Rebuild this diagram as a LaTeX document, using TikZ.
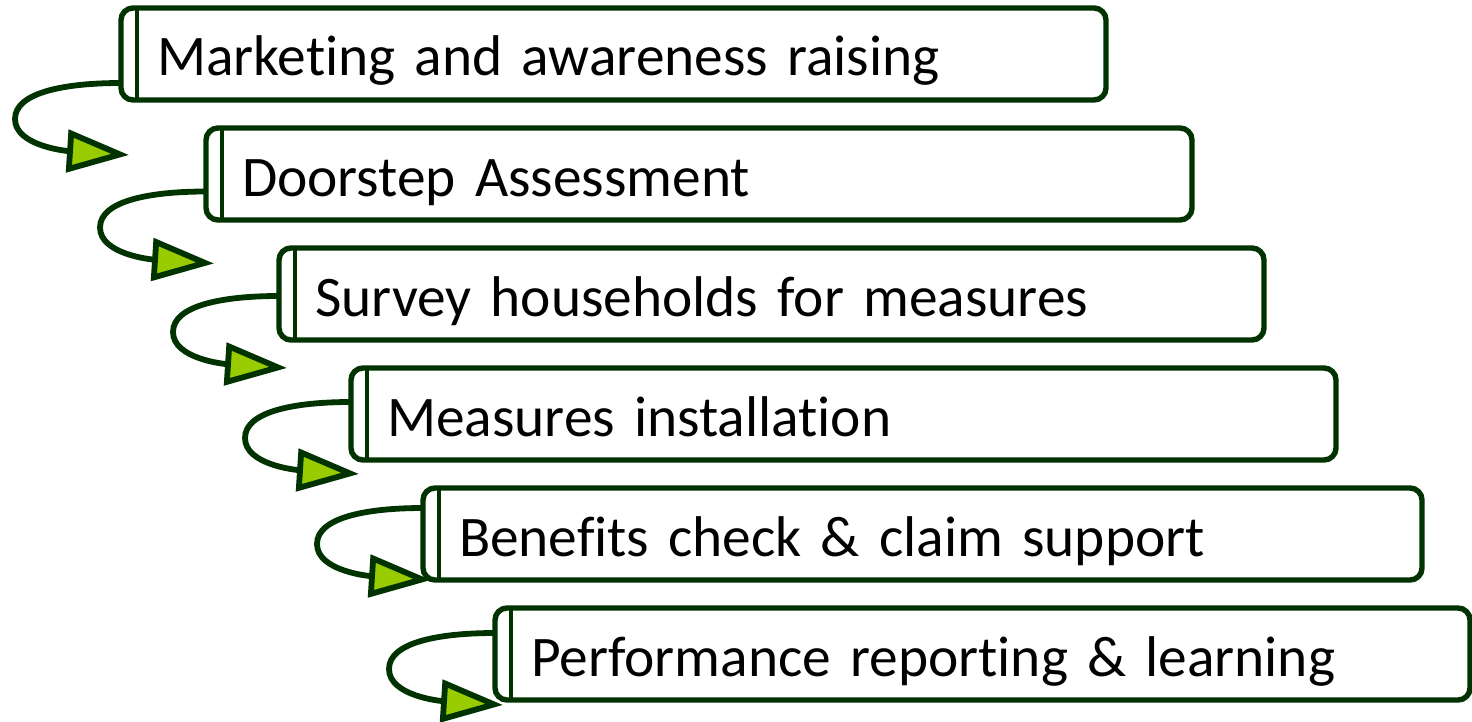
\documentclass[tikz,border=0pt]{standalone}
\usepackage{fontspec}
\setmainfont{Carlito}[Ligatures=NoCommon]
\usepackage{xcolor}
\usetikzlibrary{positioning, calc, arrows.meta}
\definecolor{stagegreen}{RGB}{0, 51, 0}
\definecolor{tipgreen}{RGB}{153, 204, 0}
\tikzset{
    stagebox/.style={
        draw=stagegreen, line width=2.7pt, rounded corners=6pt, fill=white,
        minimum height=46pt, inner xsep=18pt, inner ysep=0pt, outer sep=0pt,
        anchor=north west, align=left, text height=27pt, text depth=5pt,
        font=\fontsize{28.7}{34}\selectfont
    },
    loopptr/.style={
        draw=stagegreen, line width=2.9pt,
        -{Triangle[length=31pt, width=21pt, fill=tipgreen]}
    }
}
\newcommand{\drawloop}[2]{
    \draw[stagegreen, line width=2.4pt] ([xshift=8pt]#1.north west) -- ([xshift=8pt]#1.south west);
    \coordinate (#1s) at ([yshift=#2]#1.west);
    \draw[loopptr] (#1s) .. controls +(-55,0) and +(0,-27) .. ++(-106,36) coordinate (#1l)
        .. controls +(0,27) and +(-62,-4) .. ++(114,36) coordinate (#1t);
}

\begin{document}
\begin{tikzpicture}[x=0.5pt, y=-0.5pt]
    \useasboundingbox (0,0) rectangle (1472,722);

    % --- stages ---
    \node[stagebox, minimum width=492.5pt, text width=456.5pt] (mkt) at (121,8) {Marketing and awareness raising};
    \node[stagebox, minimum width=493pt, text width=457pt] (door) at (206,128) {Doorstep Assessment};
    \node[stagebox, minimum width=492.5pt, text width=456.5pt] (survey) at (279,248) {Survey households for measures};
    \node[stagebox, minimum width=492.5pt, text width=456.5pt] (install) at (351,368) {Measures installation};
    \node[stagebox, minimum width=499.5pt, text width=463.5pt] (benefit) at (423,488) {Benefits check \& claim support};
    \node[stagebox, minimum width=487.5pt, text width=451.5pt] (report) at (495,608) {Performance reporting \& learning};

    % --- loops ---
    \drawloop{mkt}{-14.5pt}
    \drawloop{door}{-8.75pt}
    \drawloop{survey}{-1pt}
    \drawloop{install}{6pt}
    \drawloop{benefit}{13pt}
    \drawloop{report}{10.5pt}
\end{tikzpicture}
\end{document}
